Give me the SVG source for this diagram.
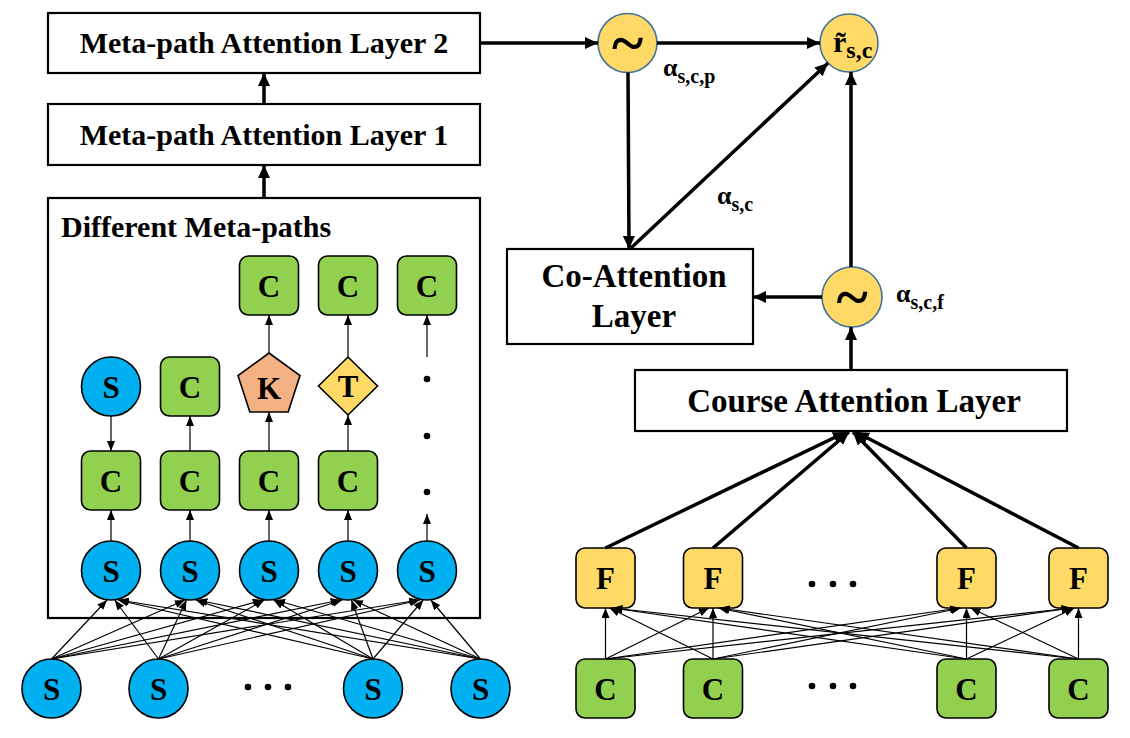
<svg xmlns="http://www.w3.org/2000/svg" width="1130" height="738" viewBox="0 0 1130 738">
<style>
  text { font-family: "Liberation Serif", "Times New Roman", serif; font-weight: bold; fill: #000; }
  .box { fill: #fff; stroke: #000; stroke-width: 2.2; }
  .lbl { font-size: 30px; text-anchor: middle; }
  .big { font-size: 33px; text-anchor: middle; }
  .nl { font-size: 31px; text-anchor: middle; }
  .blue { fill: #00B0F0; stroke: #000; stroke-width: 1.6; }
  .green { fill: #92D050; stroke: #000; stroke-width: 1.6; }
  .yel { fill: #FFD966; stroke: #000; stroke-width: 1.6; }
  .sal { fill: #F4B183; stroke: #000; stroke-width: 1.6; }
  .op { fill: #FFD966; stroke: #41719C; stroke-width: 1.6; }
  .tilde { font-size: 60px; text-anchor: middle; }
  .alpha { font-size: 26px; }
  .sub { font-size: 20px; }
  .thick { stroke: #000; stroke-width: 3.5; fill: none; marker-end: url(#ah); }
  .thin { stroke: #000; stroke-width: 1.2; fill: none; marker-end: url(#as); }
  .dot { fill: #000; }
</style>
<defs>
  <marker id="ah" markerUnits="userSpaceOnUse" markerWidth="14" markerHeight="12" refX="13" refY="6" orient="auto">
    <path d="M0,0 L13,6 L0,12 z" fill="#000"/>
  </marker>
  <marker id="as" markerUnits="userSpaceOnUse" markerWidth="10" markerHeight="8" refX="10" refY="4" orient="auto">
    <path d="M0,0 L10,4 L0,8 z" fill="#000"/>
  </marker>
</defs>
<rect width="1130" height="738" fill="#fff"/>

<g id="layer2"><rect class="box" x="48" y="13" width="432" height="60"/><text class="lbl" x="264" y="53">Meta-path Attention Layer 2</text></g>
<g id="layer1"><rect class="box" x="48" y="104" width="432" height="61"/><text class="lbl" x="264" y="145">Meta-path Attention Layer 1</text></g>
<g id="metapaths"><rect class="box" x="48" y="198" width="432" height="420"/><text x="61" y="237" style="font-size:30px">Different Meta-paths</text></g>

<g id="coatt"><rect class="box" x="507" y="249" width="246" height="95"/><text class="big" x="634" y="287">Co-Attention</text><text class="big" x="634" y="327">Layer</text></g>
<g id="course"><rect class="box" x="635" y="370" width="432" height="61"/><text class="big" x="854" y="412">Course Attention Layer</text></g>

<g id="op1"><circle class="op" cx="627.5" cy="43" r="29.5"/><text class="tilde" x="627.5" y="63">~</text></g>
<g id="rsc"><circle class="op" cx="849" cy="43" r="29"/><text x="833" y="52" style="font-size:30px">r̃<tspan class="sub" dy="6" style="font-size:24px">s,c</tspan></text></g>
<g id="op2"><circle class="op" cx="852" cy="297" r="30"/><text class="tilde" x="852" y="317">~</text></g>

<g id="lab-p"><text class="alpha" x="663" y="76">α<tspan class="sub" dy="7">s,c,p</tspan></text></g>
<g id="lab-sc"><text class="alpha" x="717" y="204">α<tspan class="sub" dy="7">s,c</tspan></text></g>
<g id="lab-f"><text class="alpha" x="896" y="302">α<tspan class="sub" dy="7">s,c,f</tspan></text></g>

<!-- meta-path column nodes -->
<g id="c3top"><rect class="green" x="239.5" y="256" width="59" height="59" rx="9"/><text class="nl" x="269" y="297">C</text></g>
<g id="c4top"><rect class="green" x="318.5" y="256" width="59" height="59" rx="9"/><text class="nl" x="348" y="297">C</text></g>
<g id="c5top"><rect class="green" x="397.5" y="256" width="59" height="59" rx="9"/><text class="nl" x="427" y="297">C</text></g>

<g id="s1mid"><circle class="blue" cx="111" cy="386.5" r="29.5"/><text class="nl" x="111" y="397.5">S</text></g>
<g id="c2mid"><rect class="green" x="160.5" y="357" width="59" height="59" rx="9"/><text class="nl" x="190" y="398">C</text></g>
<g id="k3"><polygon class="sal" points="269,353 300,375.5 288.2,412 249.8,412 238,375.5"/><text class="nl" x="269" y="399">K</text></g>
<g id="t4"><polygon class="yel" points="348,357 377.5,386 348,415 318.5,386"/><text class="nl" x="348" y="397">T</text></g>
<g id="dots5"><circle class="dot" cx="427" cy="379" r="3.3"/><circle class="dot" cx="427" cy="436" r="3.3"/><circle class="dot" cx="427" cy="492" r="3.3"/></g>

<g id="c1low"><rect class="green" x="81.5" y="451" width="59" height="59" rx="9"/><text class="nl" x="111" y="492">C</text></g>
<g id="c2low"><rect class="green" x="160.5" y="451" width="59" height="59" rx="9"/><text class="nl" x="190" y="492">C</text></g>
<g id="c3low"><rect class="green" x="239.5" y="451" width="59" height="59" rx="9"/><text class="nl" x="269" y="492">C</text></g>
<g id="c4low"><rect class="green" x="318.5" y="451" width="59" height="59" rx="9"/><text class="nl" x="348" y="492">C</text></g>

<g id="su1"><circle class="blue" cx="111" cy="570.5" r="29.5"/><text class="nl" x="111" y="581.5">S</text></g>
<g id="su2"><circle class="blue" cx="190" cy="570.5" r="29.5"/><text class="nl" x="190" y="581.5">S</text></g>
<g id="su3"><circle class="blue" cx="269" cy="570.5" r="29.5"/><text class="nl" x="269" y="581.5">S</text></g>
<g id="su4"><circle class="blue" cx="348" cy="570.5" r="29.5"/><text class="nl" x="348" y="581.5">S</text></g>
<g id="su5"><circle class="blue" cx="427" cy="570.5" r="29.5"/><text class="nl" x="427" y="581.5">S</text></g>

<g id="sb1"><circle class="blue" cx="51.5" cy="688.5" r="29.5"/><text class="nl" x="51.5" y="699.5">S</text></g>
<g id="sb2"><circle class="blue" cx="158.5" cy="688.5" r="29.5"/><text class="nl" x="158.5" y="699.5">S</text></g>
<g id="sbdots"><circle class="dot" cx="248" cy="687" r="3.3"/><circle class="dot" cx="268" cy="687" r="3.3"/><circle class="dot" cx="288" cy="687" r="3.3"/></g>
<g id="sb3"><circle class="blue" cx="373" cy="688.5" r="29.5"/><text class="nl" x="373" y="699.5">S</text></g>
<g id="sb4"><circle class="blue" cx="480.5" cy="688.5" r="29.5"/><text class="nl" x="480.5" y="699.5">S</text></g>

<!-- right side nodes -->
<g id="f1"><rect class="yel" x="576" y="548" width="59" height="60" rx="9"/><text class="nl" x="605.5" y="589">F</text></g>
<g id="f2"><rect class="yel" x="683.5" y="548" width="59" height="60" rx="9"/><text class="nl" x="713" y="589">F</text></g>
<g id="fdots"><circle class="dot" cx="812" cy="584" r="3.3"/><circle class="dot" cx="833" cy="584" r="3.3"/><circle class="dot" cx="853" cy="584" r="3.3"/></g>
<g id="f3"><rect class="yel" x="937" y="548" width="59" height="60" rx="9"/><text class="nl" x="966.5" y="589">F</text></g>
<g id="f4"><rect class="yel" x="1049" y="548" width="59" height="60" rx="9"/><text class="nl" x="1078.5" y="589">F</text></g>

<g id="cb1"><rect class="green" x="576" y="659" width="59" height="59" rx="9"/><text class="nl" x="605.5" y="700">C</text></g>
<g id="cb2"><rect class="green" x="683.5" y="659" width="59" height="59" rx="9"/><text class="nl" x="713" y="700">C</text></g>
<g id="cdots"><circle class="dot" cx="812" cy="686" r="3.3"/><circle class="dot" cx="833" cy="686" r="3.3"/><circle class="dot" cx="853" cy="686" r="3.3"/></g>
<g id="cb3"><rect class="green" x="937" y="659" width="59" height="59" rx="9"/><text class="nl" x="966.5" y="700">C</text></g>
<g id="cb4"><rect class="green" x="1049" y="659" width="59" height="59" rx="9"/><text class="nl" x="1078.5" y="700">C</text></g>

<g id="connectors">
  <line class="thick" x1="264" y1="198" x2="264" y2="165"/>
  <line class="thick" x1="264" y1="104" x2="264" y2="73"/>
  <line class="thick" x1="480" y1="43" x2="598" y2="43"/>
  <line class="thick" x1="657" y1="43" x2="820" y2="43"/>
  <line class="thick" x1="628" y1="72.5" x2="629" y2="249"/>
  <line class="thick" x1="631" y1="248" x2="828" y2="63"/>
  <line class="thick" x1="851" y1="267" x2="851" y2="72"/>
  <line class="thick" x1="822" y1="297" x2="753" y2="297"/>
  <line class="thick" x1="851" y1="370" x2="851" y2="327"/>
  <line class="thick" x1="605.5" y1="548" x2="846" y2="432"/>
  <line class="thick" x1="713" y1="548" x2="849" y2="432"/>
  <line class="thick" x1="966.5" y1="548" x2="853" y2="432"/>
  <line class="thick" x1="1078.5" y1="548" x2="856" y2="432"/>
  <line class="thin" x1="111" y1="416" x2="111" y2="451"/>
  <line class="thin" x1="111" y1="541" x2="111" y2="510"/>
  <line class="thin" x1="190" y1="541" x2="190" y2="510"/>
  <line class="thin" x1="190" y1="451" x2="190" y2="416"/>
  <line class="thin" x1="269" y1="541" x2="269" y2="510"/>
  <line class="thin" x1="269" y1="451" x2="269" y2="412"/>
  <line class="thin" x1="269" y1="353" x2="269" y2="315"/>
  <line class="thin" x1="348" y1="541" x2="348" y2="510"/>
  <line class="thin" x1="348" y1="451" x2="348" y2="415"/>
  <line class="thin" x1="348" y1="357" x2="348" y2="315"/>
  <line class="thin" x1="427" y1="541" x2="427" y2="514"/>
  <line class="thin" x1="427" y1="357" x2="427" y2="315"/>
  <line class="thin" x1="51.5" y1="659" x2="107.1" y2="600"/>
  <line class="thin" x1="51.5" y1="659" x2="184.9" y2="600"/>
  <line class="thin" x1="51.5" y1="659" x2="262.7" y2="600"/>
  <line class="thin" x1="51.5" y1="659" x2="340.6" y2="600"/>
  <line class="thin" x1="51.5" y1="659" x2="419" y2="600"/>
  <line class="thin" x1="158.5" y1="659" x2="114.7" y2="600"/>
  <line class="thin" x1="158.5" y1="659" x2="186.5" y2="600"/>
  <line class="thin" x1="158.5" y1="659" x2="264.3" y2="600"/>
  <line class="thin" x1="158.5" y1="659" x2="342.2" y2="600"/>
  <line class="thin" x1="158.5" y1="659" x2="420" y2="600"/>
  <line class="thin" x1="373" y1="659" x2="117.9" y2="600"/>
  <line class="thin" x1="373" y1="659" x2="195.7" y2="600"/>
  <line class="thin" x1="373" y1="659" x2="273.6" y2="600"/>
  <line class="thin" x1="373" y1="659" x2="351.4" y2="600"/>
  <line class="thin" x1="373" y1="659" x2="423.2" y2="600"/>
  <line class="thin" x1="480.5" y1="659" x2="119" y2="600"/>
  <line class="thin" x1="480.5" y1="659" x2="197.4" y2="600"/>
  <line class="thin" x1="480.5" y1="659" x2="275.2" y2="600"/>
  <line class="thin" x1="480.5" y1="659" x2="353" y2="600"/>
  <line class="thin" x1="480.5" y1="659" x2="430.8" y2="600"/>
  <line class="thin" x1="605.5" y1="659" x2="605.5" y2="608"/>
  <line class="thin" x1="605.5" y1="659" x2="708.9" y2="608"/>
  <line class="thin" x1="605.5" y1="659" x2="959.9" y2="608"/>
  <line class="thin" x1="605.5" y1="659" x2="1071.5" y2="608"/>
  <line class="thin" x1="713" y1="659" x2="609.6" y2="608"/>
  <line class="thin" x1="713" y1="659" x2="713" y2="608"/>
  <line class="thin" x1="713" y1="659" x2="961" y2="608"/>
  <line class="thin" x1="713" y1="659" x2="1071.8" y2="608"/>
  <line class="thin" x1="966.5" y1="659" x2="612.1" y2="608"/>
  <line class="thin" x1="966.5" y1="659" x2="718.5" y2="608"/>
  <line class="thin" x1="966.5" y1="659" x2="966.5" y2="608"/>
  <line class="thin" x1="966.5" y1="659" x2="1074.4" y2="608"/>
  <line class="thin" x1="1078.5" y1="659" x2="612.5" y2="608"/>
  <line class="thin" x1="1078.5" y1="659" x2="719.7" y2="608"/>
  <line class="thin" x1="1078.5" y1="659" x2="970.6" y2="608"/>
  <line class="thin" x1="1078.5" y1="659" x2="1078.5" y2="608"/>
</g>
</svg>
